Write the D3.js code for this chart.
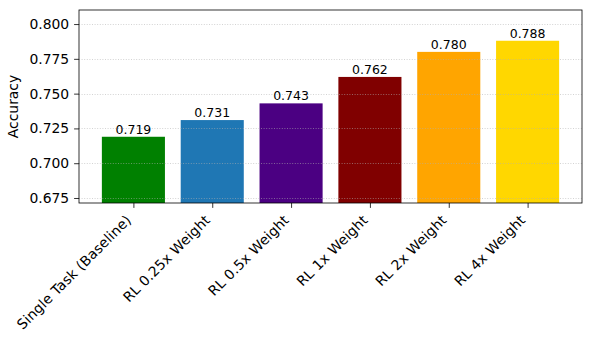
<!DOCTYPE html>
<html>
<head>
<meta charset="utf-8">
<script src="https://cdn.jsdelivr.net/npm/d3@7"></script>
<style>
  body { margin: 0; background: #fff; }
  text { font-family: "DejaVu Sans", sans-serif; fill: #000; }
</style>
</head>
<body>
<div id="chart-area"></div>
<script>
// data
var labels = ["Single Task (Baseline)", "RL 0.25x Weight", "RL 0.5x Weight", "RL 1x Weight", "RL 2x Weight", "RL 4x Weight"];
var accuracy = [0.719, 0.731, 0.743, 0.762, 0.780, 0.788];
var barColors = ["#008000", "#1f77b4", "#4b0082", "#800000", "#ffa500", "#ffd700"];
var yTicks = [0.675, 0.700, 0.725, 0.750, 0.775, 0.800];

var margin = { left: 79, right: 10, top: 10, bottom: 137 };
var width = 592 - margin.left - margin.right,
    height = 340 - margin.top - margin.bottom;

var svg = d3.select("#chart-area")
    .append("svg")
    .attr("width", 592)
    .attr("height", 340);

var g = svg.append("g")
    .attr("transform", "translate(" + margin.left + "," + margin.top + ")");

// Scales (matplotlib-like margins on x)
var x = d3.scaleLinear()
    .domain([-0.69, labels.length - 1 + 0.69])
    .range([0, width]);
var y = d3.scaleLinear()
    .domain([0.6714, 0.8101])
    .range([height, 0]);
var barW = x(0.8) - x(0);

// Bars
g.selectAll("rect.bar").data(accuracy)
  .enter().append("rect")
    .attr("class", "bar")
    .attr("x", function(d, i){ return x(i) - barW / 2; })
    .attr("y", function(d){ return y(d); })
    .attr("width", barW)
    .attr("height", function(d){ return height - y(d); })
    .attr("fill", function(d, i){ return barColors[i]; });

// Grid on top of bars
g.selectAll("line.grid").data(yTicks)
  .enter().append("line")
    .attr("class", "grid")
    .attr("x1", 0).attr("x2", width)
    .attr("y1", function(d){ return Math.round(y(d)) + 0.5; })
    .attr("y2", function(d){ return Math.round(y(d)) + 0.5; })
    .attr("stroke", "#b0b0b0")
    .attr("stroke-opacity", 0.7)
    .attr("stroke-width", 0.8)
    .attr("stroke-dasharray", "1,1.6");

// Value labels
g.selectAll("text.val").data(accuracy)
  .enter().append("text")
    .attr("class", "val")
    .attr("x", function(d, i){ return x(i); })
    .attr("y", function(d){ return y(d) - 3; })
    .attr("text-anchor", "middle")
    .attr("font-size", "12.5px")
    .text(function(d){ return d3.format(".3f")(d); });

// Y axis
var yAxis = g.append("g")
    .call(d3.axisLeft(y).tickValues(yTicks).tickFormat(d3.format(".3f")).tickSize(4.9).tickPadding(4.9));
yAxis.selectAll("text").attr("font-size", "13.9px").style("font-family", "DejaVu Sans, sans-serif");

// X axis
var xAxis = g.append("g")
    .attr("transform", "translate(0," + height + ")")
    .call(d3.axisBottom(x).tickValues(d3.range(labels.length)).tickFormat("").tickSize(4.9));
xAxis.selectAll("text").remove();
g.selectAll(".domain").remove();
g.selectAll(".tick line").attr("stroke", "#000").attr("stroke-width", 0.8);

// rotated category labels, right-aligned to the tick
g.selectAll("text.xlab").data(labels)
  .enter().append("text")
    .attr("class", "xlab")
    .attr("font-size", "13.9px")
    .attr("letter-spacing", "0.15px")
    .attr("text-anchor", "end")
    .attr("transform", function(d, i){
        return "translate(" + (x(i) - 1.3) + "," + (height + 18) + ") rotate(-45)";
    })
    .text(function(d){ return d; });

// Frame
g.append("rect")
    .attr("width", width)
    .attr("height", height)
    .attr("fill", "none")
    .attr("stroke", "#000")
    .attr("stroke-width", 0.8);

// Y label
g.append("text")
    .attr("transform", "rotate(-90)")
    .attr("x", -height / 2)
    .attr("y", -61)
    .attr("text-anchor", "middle")
    .attr("font-size", "13.9px")
    .text("Accuracy");
</script>
</body>
</html>
